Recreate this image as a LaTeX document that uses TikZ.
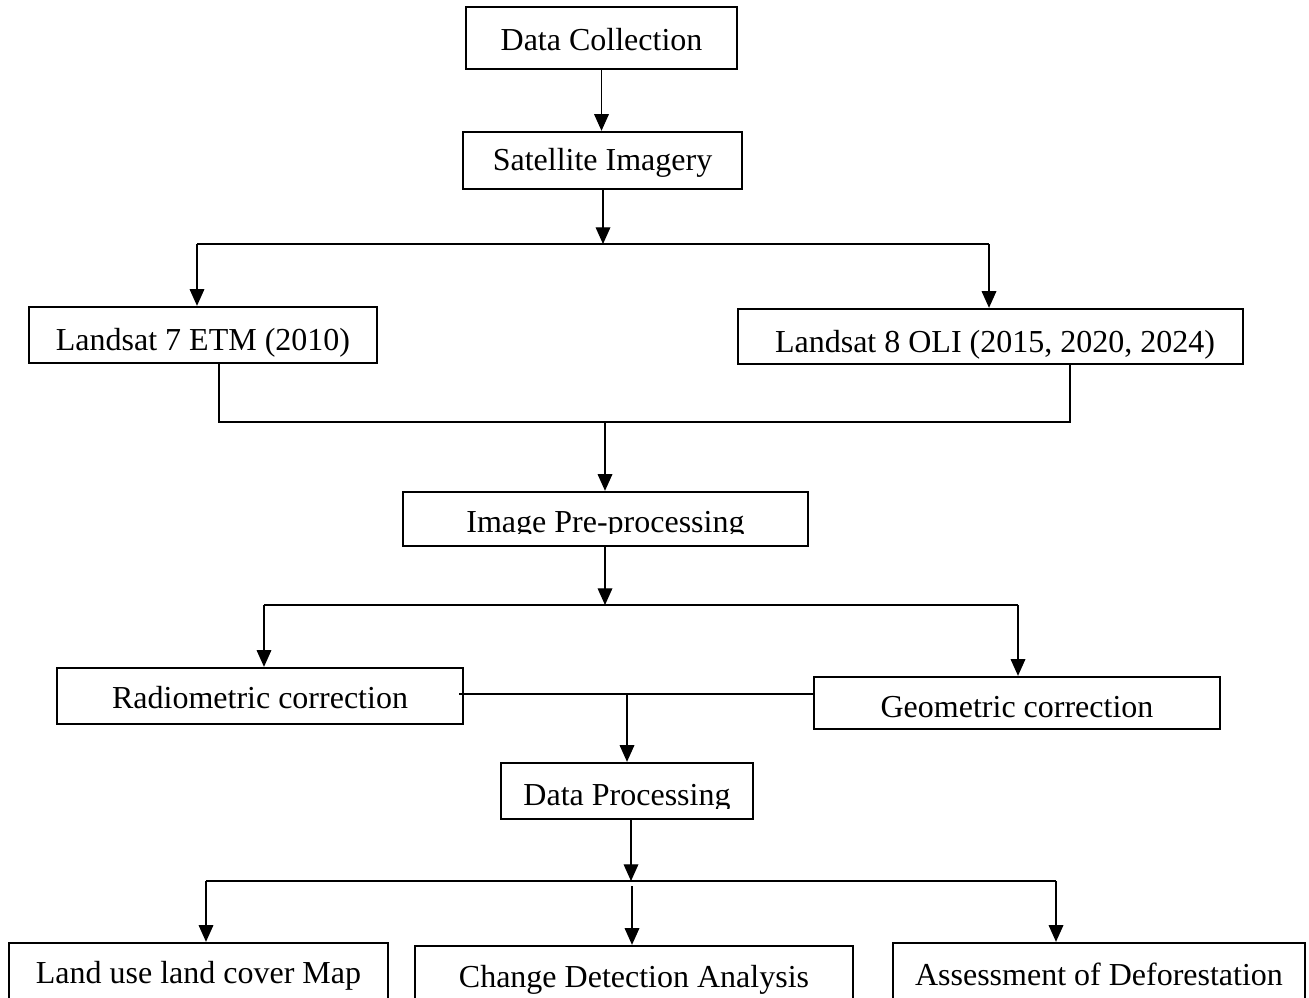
\documentclass[tikz,border=0pt]{standalone}
\usepackage{fontspec}
\setmainfont{Liberation Serif}
\usetikzlibrary{arrows.meta,fit,calc}
\begin{document}
\begin{tikzpicture}[x=0.75pt,y=-0.75pt,
  box/.style={draw, line width=1.8pt, inner sep=0pt},
  lbl/.style={anchor=base, inner sep=0pt, font=\fontsize{24}{28}\selectfont},
  conn/.style={line width=0.9pt},
  arr/.style={conn, -{Triangle[width=11pt,length=12.5pt]}}]
\useasboundingbox (0,0) rectangle (1309,997);

% boxes
\node[box, fit={(466,7) (737,69)}] (dc) {};
\node[lbl] (dct) at (601.5,50) {Data Collection};
\node[box, fit={(463,132) (742,189)}] (si) {};
\node[lbl] (sit) at (602.5,170) {Satellite Imagery};
\node[box, fit={(29,307) (377,363)}] (l7) {};
\node[lbl] (l7t) at (203,350) {Landsat 7 ETM (2010)};
\node[box, fit={(738,309) (1243,364)}] (l8) {};
\node[lbl] (l8t) at (995,352) {Landsat 8 OLI (2015, 2020, 2024)};
\node[box, fit={(403,492) (808,546)}] (ip) {};
\begin{scope}
\clip (403,480) rectangle (808,533.5);
\node[lbl] (ipt) at (605.5,532) {Image Pre-processing};
\end{scope}
\node[box, fit={(57,668) (463,724)}] (rc) {};
\node[lbl] (rct) at (260,708) {Radiometric correction};
\node[box, fit={(814,677) (1220,729)}] (gc) {};
\node[lbl] (gct) at (1017,717) {Geometric correction};
\node[box, fit={(501,763) (753,819)}] (dp) {};
\begin{scope}
\clip (501,750) rectangle (753,808);
\node[lbl] (dpt) at (627,805) {Data Processing};
\end{scope}
\node[box, fit={(9,943) (388,1012)}] (lu) {};
\node[lbl] (lut) at (198.5,983) {Land use land cover Map};
\node[box, fit={(415,946) (853,1012)}] (cd) {};
\node[lbl] (cdt) at (634,987) {Change Detection Analysis};
\node[box, fit={(893,943) (1305,1012)}] (ad) {};
\node[lbl] (adt) at (1099,985) {Assessment of Deforestation};

% junction coordinates
\coordinate (j1) at (603,244);
\coordinate (j1l) at (197,244);
\coordinate (j1r) at (989,244);
\coordinate (j2l) at (219,422);
\coordinate (j2r) at (1070,422);
\coordinate (j2) at (605,422);
\coordinate (j3) at (605,605);
\coordinate (j3l) at (264,605);
\coordinate (j3r) at (1018,605);
\coordinate (j4l) at (459,694);
\coordinate (j4) at (627,694);
\coordinate (j5) at (631,881);
\coordinate (j5l) at (206,881);
\coordinate (j5r) at (1056,881);
\coordinate (j5b) at (632,886);

% connectors
\draw[arr] (dc.south) -- (dc.south |- si.north);
\draw[arr] (si.south -| j1) -- (j1);
\draw[conn] (j1l) -- (j1r);
\draw[arr] (j1l) -- (j1l |- l7.north);
\draw[arr] (j1r) -- (j1r |- l8.north);

\draw[conn] (j2l |- l7.south) -- (j2l) -- (j2r) -- (j2r |- l8.south);
\draw[arr] (j2) -- (j2 |- ip.north);

\draw[arr] (ip.south -| j3) -- (j3);
\draw[conn] (j3l) -- (j3r);
\draw[arr] (j3l) -- (j3l |- rc.north);
\draw[arr] (j3r) -- (j3r |- gc.north);

\draw[conn] (j4l) -- (j4l -| gc.west);
\draw[arr] (j4) -- (j4 |- dp.north);

\draw[arr] (dp.south -| j5) -- (j5);
\draw[conn] (j5l) -- (j5r);
\draw[arr] (j5l) -- (j5l |- lu.north);
\draw[arr] (j5b) -- (j5b |- cd.north);
\draw[arr] (j5r) -- (j5r |- ad.north);
\end{tikzpicture}
\end{document}
